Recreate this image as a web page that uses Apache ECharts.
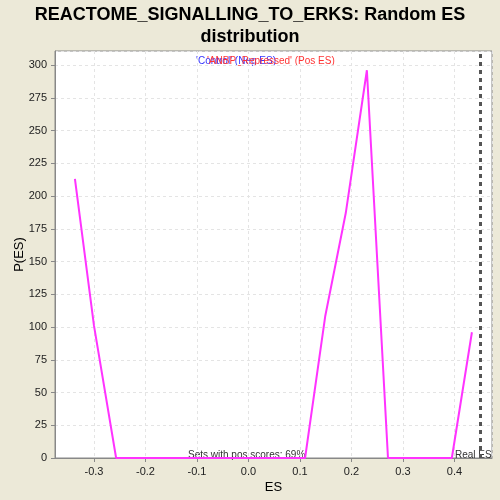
<!DOCTYPE html>
<html>
<head>
<meta charset="utf-8">
<script src="https://cdn.jsdelivr.net/npm/echarts@6/dist/echarts.min.js"></script>
<style>html,body{margin:0;padding:0;background:#ECE9D8;}#c{width:500px;height:500px;}</style>
</head>
<body>
<div id="c"></div>
<script>
var esValues = [-0.337, -0.300, -0.257, 0.110, 0.149, 0.189, 0.230, 0.271, 0.395, 0.434];
var pValues  = [213, 101, 0, 0, 108, 187, 296, 0, 0, 96];
var realES = 0.452;
var titleText = 'REACTOME_SIGNALLING_TO_ERKS: Random ES\ndistribution';
var negLabel = "'Control' (Neg ES)";
var posLabel = "'ANBP_Repressed' (Pos ES)";
var posScoreText = 'Sets with pos scores: 69%';

var chart = echarts.init(document.getElementById('c'), null, {renderer: 'canvas'});
var font = 'Liberation Sans, Arial, sans-serif';
chart.setOption({
  backgroundColor: '#ECE9D8',
  animation: false,
  title: {
    text: titleText, left: 'center', top: -1,
    textStyle: {fontFamily: font, fontSize: 18, fontWeight: 'bold', color: '#000', lineHeight: 22}
  },
  grid: {left: 55, right: 8, top: 51, bottom: 42, outerBoundsMode: 'none', containLabel: false,
    show: true, backgroundColor: '#fff', borderColor: '#888', borderWidth: 1},
  xAxis: {
    type: 'value', min: -0.3757, max: 0.473, minInterval: 0.1, maxInterval: 0.1,
    name: 'ES', nameLocation: 'middle', nameGap: 23, nameMoveOverlap: false,
    nameTextStyle: {fontFamily: font, fontSize: 13, color: '#000', verticalAlign: 'top'},
    axisLine: {onZero: false, lineStyle: {color: '#888'}},
    axisTick: {length: 4, lineStyle: {color: '#888'}},
    axisLabel: {fontFamily: font, fontSize: 11, color: '#222', showMinLabel: false, showMaxLabel: false,
      formatter: function(v){ return (Math.abs(v) < 1e-9 ? 0 : v).toFixed(1); }},
    splitLine: {show: true, lineStyle: {color: '#e4e4e4', type: [3, 3]}}
  },
  yAxis: {
    type: 'value', min: 0, max: 310.7, interval: 25,
    name: 'P(ES)', nameLocation: 'middle', nameGap: 29, nameRotate: 90, nameMoveOverlap: false,
    nameTextStyle: {fontFamily: font, fontSize: 13, color: '#000'},
    axisLine: {show: true, onZero: false, lineStyle: {color: '#888'}},
    axisTick: {show: true, length: 4, lineStyle: {color: '#888'}},
    axisLabel: {fontFamily: font, fontSize: 11, color: '#222', showMaxLabel: false},
    splitLine: {show: true, lineStyle: {color: '#e4e4e4', type: [3, 3]}}
  },
  graphic: [
    {type: 'text', left: 196, top: 56, style: {text: negLabel, fill: '#3333ff', font: '10px ' + font}},
    {type: 'text', left: 207, top: 56, style: {text: posLabel, fill: '#ff3333', font: '10px ' + font}},
    {type: 'text', left: 188, top: 450, style: {text: posScoreText, fill: '#333', font: '10px ' + font}},
    {type: 'text', left: 455, top: 450, style: {text: 'Real ES', fill: '#333', font: '10px ' + font}}
  ],
  series: [{
    type: 'line',
    data: esValues.map(function(x, i){ return [x, pValues[i]]; }),
    symbol: 'none',
    lineStyle: {color: '#ff33ff', width: 2},
    markLine: {
      silent: true, symbol: 'none', label: {show: false},
      lineStyle: {color: '#555', width: 3, type: [4, 4]},
      data: [{xAxis: realES}]
    }
  }]
});
</script>
</body>
</html>
